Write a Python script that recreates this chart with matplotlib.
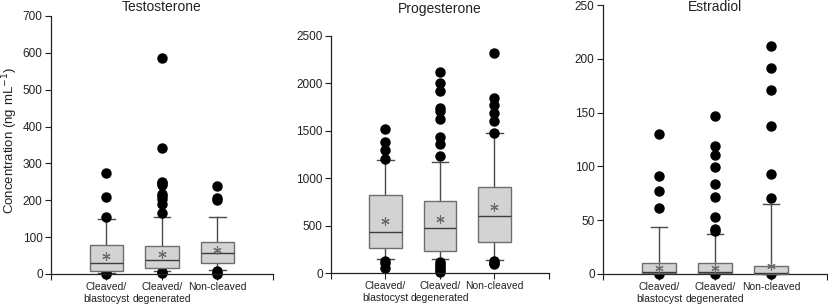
import matplotlib.pyplot as plt

plt.rcParams['font.family'] = ['Liberation Sans', 'DejaVu Sans']

groups = ['Cleaved/\nblastocyst', 'Cleaved/\ndegenerated', 'Non-cleaved']

# Testosterone
testo_q1 = [9, 16, 29]
testo_med = [30, 38, 56]
testo_q3 = [80, 75, 86]
testo_mean = [49, 55, 65]
testo_lo = [4, 7, 10]
testo_hi = [149, 156, 154]
testo_out = [
    [274, 210, 156, 2, 0],
    [585, 341, 250, 246, 242, 218, 212, 203, 190, 165, 6, 3],
    [240, 207, 200, 8, 3, 0],
]

# Progesterone
prog_q1 = [267, 229, 324]
prog_med = [429, 471, 605]
prog_q3 = [823, 763, 911]
prog_mean = [552, 570, 700]
prog_lo = [148, 148, 137]
prog_hi = [1190, 1176, 1478]
prog_out = [
    [1516, 1385, 1300, 1206, 130, 105, 50],
    [2117, 2001, 1920, 1744, 1709, 1621, 1431, 1361, 1234, 120, 95, 75, 55, 35, 15],
    [2318, 1850, 1772, 1685, 1607, 1482, 125, 105, 90],
]

# Estradiol
estr_q1 = [0.5, 0.5, 0.3]
estr_med = [2, 2, 0.5]
estr_q3 = [10, 10, 7.5]
estr_mean = [6, 6, 7]
estr_lo = [0.5, 0.5, 0.3]
estr_hi = [44, 37, 65]
estr_out = [
    [130, 91, 77, 61, 0],
    [147, 119, 111, 99, 84, 72, 53, 42, 40, 0],
    [212, 191, 171, 138, 93, 71, 0],
]


def make_stats(q1, med, q3, mean, lo, hi, out):
    stats = []
    for i in range(len(q1)):
        stats.append(dict(q1=q1[i], med=med[i], q3=q3[i], mean=mean[i],
                          whislo=lo[i], whishi=hi[i], fliers=out[i]))
    return stats


panels = [
    ('Testosterone', make_stats(testo_q1, testo_med, testo_q3, testo_mean, testo_lo, testo_hi, testo_out),
     [51, 16, 273, 274], 700, 100),
    ('Progesterone', make_stats(prog_q1, prog_med, prog_q3, prog_mean, prog_lo, prog_hi, prog_out),
     [331, 36, 549, 273], 2500, 500),
    ('Estradiol', make_stats(estr_q1, estr_med, estr_q3, estr_mean, estr_lo, estr_hi, estr_out),
     [603, 5, 827, 274], 250, 50),
]
title_y = [7, 9, 7]

W, H = 829, 305
fig = plt.figure(figsize=(W / 100, H / 100), dpi=100)

for k, (title, stats, (x0, y0, x1, y1), ymax, step) in enumerate(panels):
    ax = fig.add_axes([x0 / W, 1 - y1 / H, (x1 - x0) / W, (y1 - y0) / H])
    bp = ax.bxp(stats, positions=[1, 2, 3], widths=0.6, capwidths=0.3,
                showmeans=True, patch_artist=True,
                boxprops=dict(facecolor='#d3d3d3', edgecolor='#6e6e6e', linewidth=1.0),
                medianprops=dict(color='#3c3c3c', linewidth=1.0),
                whiskerprops=dict(color='#4a4a4a', linewidth=1.0),
                capprops=dict(color='#4a4a4a', linewidth=1.0),
                meanprops=dict(marker=(6, 2, 0), markersize=6, markeredgewidth=0.8,
                               markeredgecolor='#6a6a6a'),
                flierprops=dict(marker='o', markersize=6.5, markerfacecolor='black',
                                markeredgecolor='black', linestyle='none'))
    for art in ax.lines + ax.patches:
        art.set_clip_on(False)
    for p in bp['boxes']:
        p.set_zorder(3)
    for ln in bp['medians']:
        ln.set_zorder(4)
    for ln in bp['means']:
        ln.set_zorder(5)
    ax.set_xlim(0, 4)
    ax.set_ylim(0, ymax)
    ax.set_yticks(range(0, ymax + 1, step))
    ax.set_xticks([0, 1, 2, 3, 4])
    ax.set_xticklabels([''] + groups + [''], fontsize=7.5)
    ax.tick_params(axis='y', labelsize=8.5, length=4, width=0.8, pad=2, colors='#222222')
    ax.tick_params(axis='x', length=4, width=0.8, pad=2, colors='#222222')
    for s in ['top', 'right']:
        ax.spines[s].set_visible(False)
    for s in ['left', 'bottom']:
        ax.spines[s].set_linewidth(0.9)
        ax.spines[s].set_color('#222222')
    fig.text(((x0 + x1) / 2) / W, 1 - title_y[k] / H, title, ha='center', va='center',
             fontsize=10, color='#222222')

fig.text(10 / W, 1 - 140 / H, 'Concentration (ng mL$^{-1}$)', rotation=90,
         ha='center', va='center', fontsize=9.5, color='#222222')

fig.savefig('out.png', dpi=100)
